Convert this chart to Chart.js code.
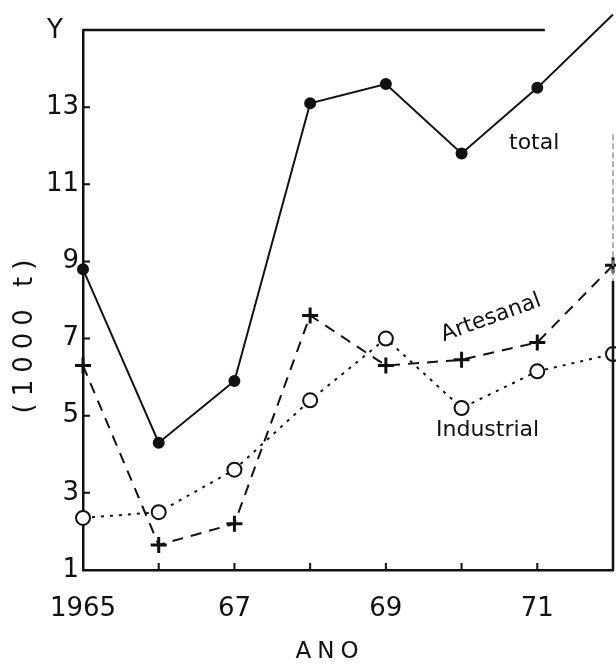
<!DOCTYPE html>
<html>
<head>
<meta charset="utf-8">
<script src="https://cdn.jsdelivr.net/npm/chart.js@4"></script>
<style>
  html, body { margin: 0; background: #fff; }
</style>
</head>
<body>
<canvas id="landings" width="616" height="664"></canvas>
<script>
const years = [1965, 1966, 1967, 1968, 1969, 1970, 1971, 1972];
const total = [8.8, 4.3, 5.9, 13.1, 13.6, 11.8, 13.5, 15.4];
const artesanal = [6.3, 1.65, 2.2, 7.6, 6.3, 6.45, 6.9, 8.9];
const industrial = [2.35, 2.5, 3.6, 5.4, 7.0, 5.2, 6.15, 6.6];
const yTicks = [1, 3, 5, 7, 9, 11, 13];
const xLabels = { 1965: '1965', 1967: '67', 1969: '69', 1971: '71' };

const ink = '#111';
const font = 'DejaVu Sans';

function points(values) {
    return years.map((yr, i) => ({ x: yr, y: values[i] }));
}

// frame, inward tick marks and the hand-lettered labels
const decorations = {
    id: 'decorations',
    afterDraw: (c) => {
        const ctx = c.ctx;
        const x = c.scales.x, y = c.scales.y;
        const area = c.chartArea;
        ctx.save();
        ctx.strokeStyle = ink;
        ctx.lineWidth = 2.5;
        ctx.beginPath();
        ctx.moveTo(area.left, area.top);
        ctx.lineTo(x.getPixelForValue(1971.1), area.top);
        ctx.moveTo(area.right, y.getPixelForValue(8.5));
        ctx.lineTo(area.right, area.bottom);
        ctx.stroke();
        // faint upper part of the right edge
        ctx.strokeStyle = '#999';
        ctx.lineWidth = 1.5;
        ctx.setLineDash([6, 3]);
        ctx.beginPath();
        ctx.moveTo(area.right, y.getPixelForValue(12.3));
        ctx.lineTo(area.right, y.getPixelForValue(8.5));
        ctx.stroke();
        ctx.setLineDash([]);

        ctx.strokeStyle = ink;
        ctx.lineWidth = 2;
        ctx.beginPath();
        yTicks.forEach(v => {
            const py = y.getPixelForValue(v);
            ctx.moveTo(area.left, py);
            ctx.lineTo(area.left + 7, py);
        });
        years.slice(1, -1).forEach(v => {
            const px = x.getPixelForValue(v);
            ctx.moveTo(px, area.bottom);
            ctx.lineTo(px, area.bottom - 7);
        });
        ctx.stroke();

        ctx.fillStyle = ink;
        ctx.textBaseline = 'middle';
        ctx.font = `26px "${font}"`;
        ctx.textAlign = 'center';
        ctx.fillText('Y', 55, 31);

        ctx.font = `22px "${font}"`;
        ctx.textAlign = 'left';
        ctx.fillText('total', 509, 143);
        ctx.fillText('Industrial', 436, 430);

        ctx.save();
        ctx.translate(491, 318);
        ctx.rotate(-20 * Math.PI / 180);
        ctx.textAlign = 'center';
        ctx.fillText('Artesanal', 0, 0);
        ctx.restore();

        ctx.save();
        ctx.translate(25, 333);
        ctx.rotate(-Math.PI / 2);
        ctx.textAlign = 'center';
        ctx.font = `26px "${font}"`;
        ctx.letterSpacing = '7px';
        ctx.fillText('(1000 t)', 0, 0);
        ctx.restore();

        ctx.textAlign = 'center';
        ctx.font = `23px "${font}"`;
        ctx.letterSpacing = '6px';
        ctx.fillText('ANO', 330, 652);
        ctx.restore();
    }
};

new Chart(document.getElementById('landings'), {
    type: 'line',
    data: {
        datasets: [
            {
                label: 'total',
                data: points(total),
                borderColor: ink,
                borderWidth: 2,
                pointStyle: 'circle',
                pointRadius: 5,
                pointBackgroundColor: ink,
                pointBorderColor: ink,
                clip: false
            },
            {
                label: 'Artesanal',
                data: points(artesanal),
                borderColor: ink,
                borderWidth: 2,
                borderDash: [11, 8],
                pointStyle: 'cross',
                pointRadius: 8,
                pointBorderWidth: 3,
                pointBorderColor: ink,
                clip: false
            },
            {
                label: 'Industrial',
                data: points(industrial),
                borderColor: ink,
                borderWidth: 2,
                borderDash: [3, 6],
                pointStyle: 'circle',
                pointRadius: 7,
                pointBorderWidth: 2,
                pointBackgroundColor: '#fff',
                pointBorderColor: ink,
                clip: false
            }
        ]
    },
    options: {
        responsive: false,
        animation: false,
        devicePixelRatio: 1,
        layout: { autoPadding: false, padding: { top: 30, right: 3, left: 0, bottom: 0 } },
        plugins: { legend: { display: false }, tooltip: { enabled: false } },
        scales: {
            x: {
                type: 'linear',
                min: 1965,
                max: 1972,
                afterBuildTicks: (s) => { s.ticks = years.map(v => ({ value: v })); },
                afterFit: (s) => {
                    s.height = 94;
                    s.paddingLeft = 0;
                    s.paddingRight = 0;
                },
                grid: { display: false, drawTicks: false },
                border: { display: true, color: ink, width: 2.5 },
                ticks: {
                    color: ink,
                    padding: 24,
                    maxRotation: 0,
                    autoSkip: false,
                    font: { family: font, size: 26 },
                    callback: (v) => xLabels[v] || ''
                }
            },
            y: {
                min: 1,
                max: 15,
                afterBuildTicks: (s) => { s.ticks = yTicks.map(v => ({ value: v })); },
                afterFit: (s) => { s.width = 83; },
                grid: { display: false, drawTicks: false },
                border: { display: true, color: ink, width: 2.5 },
                ticks: {
                    color: ink,
                    padding: 4,
                    font: { family: font, size: 26 }
                }
            }
        }
    },
    plugins: [decorations]
});
</script>
</body>
</html>
